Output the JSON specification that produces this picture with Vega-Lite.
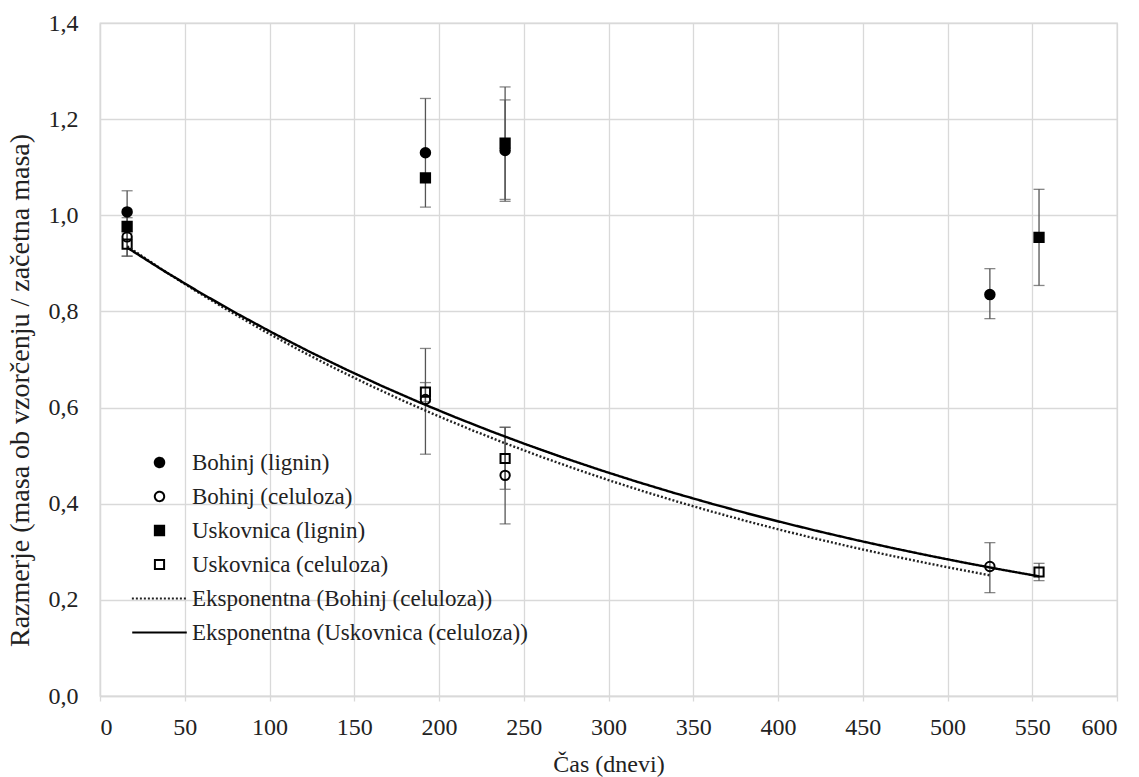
{
  "$schema": "https://vega.github.io/schema/vega-lite/v6.json",
  "autosize": "none",
  "width": 1017,
  "height": 673,
  "padding": {"left": 100, "top": 23, "right": 22, "bottom": 81},
  "background": "white",
  "datasets": {
    "points": [
      {"series": "Bohinj (lignin)", "x": 16, "y": 1.007},
      {"series": "Bohinj (lignin)", "x": 192, "y": 1.13},
      {"series": "Bohinj (lignin)", "x": 239, "y": 1.135},
      {"series": "Bohinj (lignin)", "x": 525, "y": 0.835},
      {"series": "Bohinj (celuloza)", "trend": "Eksponentna (Bohinj (celuloza))", "x": 16, "y": 0.955},
      {"series": "Bohinj (celuloza)", "trend": "Eksponentna (Bohinj (celuloza))", "x": 192, "y": 0.617},
      {"series": "Bohinj (celuloza)", "trend": "Eksponentna (Bohinj (celuloza))", "x": 239, "y": 0.459},
      {"series": "Bohinj (celuloza)", "trend": "Eksponentna (Bohinj (celuloza))", "x": 525, "y": 0.2695},
      {"series": "Uskovnica (lignin)", "x": 16, "y": 0.977},
      {"series": "Uskovnica (lignin)", "x": 192, "y": 1.078},
      {"series": "Uskovnica (lignin)", "x": 239, "y": 1.15},
      {"series": "Uskovnica (lignin)", "x": 554, "y": 0.954},
      {"series": "Uskovnica (celuloza)", "trend": "Eksponentna (Uskovnica (celuloza))", "x": 16, "y": 0.94},
      {"series": "Uskovnica (celuloza)", "trend": "Eksponentna (Uskovnica (celuloza))", "x": 192, "y": 0.632},
      {"series": "Uskovnica (celuloza)", "trend": "Eksponentna (Uskovnica (celuloza))", "x": 239, "y": 0.494},
      {"series": "Uskovnica (celuloza)", "trend": "Eksponentna (Uskovnica (celuloza))", "x": 554, "y": 0.258}
    ],
    "errors": [
      {"x": 16, "lo": 0.963, "hi": 1.051},
      {"x": 16, "lo": 0.915, "hi": 0.995},
      {"x": 16, "lo": 0.915, "hi": 0.965},
      {"x": 192, "lo": 1.017, "hi": 1.243},
      {"x": 192, "lo": 0.503, "hi": 0.723},
      {"x": 192, "lo": 0.612, "hi": 0.652},
      {"x": 239, "lo": 1.029, "hi": 1.24},
      {"x": 239, "lo": 1.033, "hi": 1.267},
      {"x": 239, "lo": 0.358, "hi": 0.559},
      {"x": 239, "lo": 0.43, "hi": 0.559},
      {"x": 525, "lo": 0.785, "hi": 0.889},
      {"x": 525, "lo": 0.215, "hi": 0.319},
      {"x": 554, "lo": 0.854, "hi": 1.054},
      {"x": 554, "lo": 0.24, "hi": 0.276}
    ]
  },
  "layer": [
    {
      "data": {"name": "errors"},
      "mark": {"type": "rule", "color": "#555555", "strokeWidth": 1.3},
      "encoding": {
        "x": {"field": "x", "type": "quantitative"},
        "y": {"field": "lo", "type": "quantitative"},
        "y2": {"field": "hi"}
      }
    },
    {
      "data": {"name": "errors"},
      "mark": {"type": "tick", "orient": "horizontal", "color": "#555555", "size": 11, "thickness": 1.3},
      "encoding": {
        "x": {"field": "x", "type": "quantitative"},
        "y": {"field": "lo", "type": "quantitative"}
      }
    },
    {
      "data": {"name": "errors"},
      "mark": {"type": "tick", "orient": "horizontal", "color": "#555555", "size": 11, "thickness": 1.3},
      "encoding": {
        "x": {"field": "x", "type": "quantitative"},
        "y": {"field": "hi", "type": "quantitative"}
      }
    },
    {
      "data": {"name": "points"},
      "mark": {"type": "point", "strokeWidth": 2, "opacity": 1},
      "encoding": {
        "x": {"field": "x", "type": "quantitative"},
        "y": {"field": "y", "type": "quantitative"},
        "shape": {"field": "series", "type": "nominal",
          "scale": {"domain": ["Bohinj (lignin)", "Bohinj (celuloza)", "Uskovnica (lignin)", "Uskovnica (celuloza)", "Eksponentna (Bohinj (celuloza))", "Eksponentna (Uskovnica (celuloza))"],
                    "range": ["circle", "circle", "square", "square", "M-6.1,0H6.1", "M-6.1,0H6.1"]},
          "legend": {"title": null, "orient": "none", "legendX": 48, "legendY": 428}},
        "fill": {"field": "series", "type": "nominal",
          "scale": {"domain": ["Bohinj (lignin)", "Bohinj (celuloza)", "Uskovnica (lignin)", "Uskovnica (celuloza)", "Eksponentna (Bohinj (celuloza))", "Eksponentna (Uskovnica (celuloza))"],
                    "range": ["black", "transparent", "black", "transparent", "transparent", "transparent"]},
          "legend": {"title": null, "orient": "none", "legendX": 48, "legendY": 428}},
        "stroke": {"field": "series", "type": "nominal",
          "scale": {"domain": ["Bohinj (lignin)", "Bohinj (celuloza)", "Uskovnica (lignin)", "Uskovnica (celuloza)", "Eksponentna (Bohinj (celuloza))", "Eksponentna (Uskovnica (celuloza))"],
                    "range": ["black", "black", "black", "black", "#222222", "black"]},
          "legend": {"title": null, "orient": "none", "legendX": 48, "legendY": 428}},
        "size": {"field": "series", "type": "nominal",
          "scale": {"domain": ["Bohinj (lignin)", "Bohinj (celuloza)", "Uskovnica (lignin)", "Uskovnica (celuloza)", "Eksponentna (Bohinj (celuloza))", "Eksponentna (Uskovnica (celuloza))"],
                    "range": [90, 80, 110, 100, 90, 90]},
          "legend": {"title": null, "orient": "none", "legendX": 48, "legendY": 428}}
      }
    },
    {
      "data": {"name": "points"},
      "transform": [
        {"filter": "isValid(datum.trend)"},
        {"regression": "y", "on": "x", "method": "exp", "groupby": ["trend"]}
      ],
      "mark": {"type": "line", "strokeWidth": 2.4},
      "encoding": {
        "x": {"field": "x", "type": "quantitative"},
        "y": {"field": "y", "type": "quantitative"},
        "stroke": {"field": "trend", "type": "nominal",
          "scale": {"domain": ["Bohinj (lignin)", "Bohinj (celuloza)", "Uskovnica (lignin)", "Uskovnica (celuloza)", "Eksponentna (Bohinj (celuloza))", "Eksponentna (Uskovnica (celuloza))"],
                    "range": ["black", "black", "black", "black", "#222222", "black"]},
          "legend": {"title": null, "orient": "none", "legendX": 48, "legendY": 428}},
        "strokeDash": {"field": "trend", "type": "nominal",
          "scale": {"domain": ["Bohinj (lignin)", "Bohinj (celuloza)", "Uskovnica (lignin)", "Uskovnica (celuloza)", "Eksponentna (Bohinj (celuloza))", "Eksponentna (Uskovnica (celuloza))"],
                    "range": [[1, 0], [1, 0], [1, 0], [1, 0], [2, 2], [1, 0]]},
          "legend": {"title": null, "orient": "none", "legendX": 48, "legendY": 428}}
      }
    }
  ],
  "encoding": {
    "x": {
      "type": "quantitative",
      "scale": {"domain": [0, 600], "nice": false, "zero": false},
      "axis": {"values": [0,50,100,150,200,250,300,350,400,450,500,550,600], "title": "Čas (dnevi)", "format": "d", "ticks": true, "tickSize": 5, "labelPadding": 14, "titleBaseline": "middle", "titleY": 68}
    },
    "y": {
      "type": "quantitative",
      "scale": {"domain": [0, 1.4], "nice": false},
      "axis": {"values": [0,0.2,0.4,0.6,0.8,1.0,1.2,1.4], "format": ".1f", "title": "Razmerje (masa ob vzorčenju / začetna masa)", "ticks": false, "labelPadding": 22, "titleX": -80, "titleY": 367, "titleBaseline": "middle", "titleFontSize": 28}
    }
  },
  "config": {
    "locale": {"number": {"decimal": ",", "thousands": ".", "grouping": [3], "currency": ["", " €"]}},
    "view": {"stroke": "#d9d9d9", "strokeWidth": 1.3},
    "font": "Liberation Serif",
    "axis": {
      "labelFont": "Liberation Serif",
      "titleFont": "Liberation Serif",
      "labelFontSize": 24,
      "titleFontSize": 24,
      "labelColor": "#222222",
      "titleColor": "#222222",
      "titleFontWeight": "normal",
      "grid": true,
      "gridColor": "#d9d9d9",
      "gridWidth": 1.3,
      "domainColor": "#d9d9d9",
      "domainWidth": 1.3,
      "tickColor": "#d9d9d9",
      "tickWidth": 1.3
    },
    "legend": {
      "padding": 0,
      "labelFont": "Liberation Serif",
      "labelFontSize": 23,
      "labelColor": "#222222",
      "labelLimit": 600,
      "rowPadding": 10,
      "labelOffset": 21,
      "symbolSize": 90,
      "symbolStrokeWidth": 2
    }
  }
}
